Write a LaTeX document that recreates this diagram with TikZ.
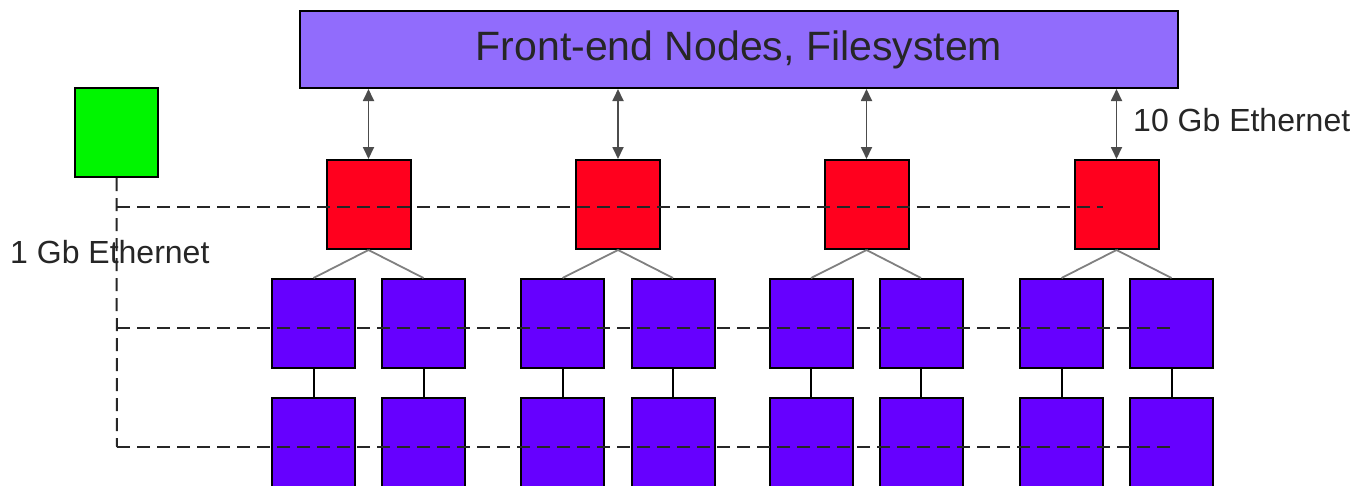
\documentclass[tikz,border=0pt]{standalone}
\usepackage{fontspec}
\setmainfont{Liberation Sans}
\usetikzlibrary{arrows.meta}
\definecolor{topc}{RGB}{145,108,252}
\definecolor{redc}{RGB}{255,0,30}
\definecolor{purc}{RGB}{102,0,255}
\definecolor{grnc}{RGB}{0,245,0}
\tikzset{
  box/.style={draw=black, line width=2pt, inner sep=0pt, minimum width=83pt, minimum height=89pt},
  redbox/.style={box, fill=redc, minimum width=84pt},
  purbox/.style={box, fill=purc},
  biarrow/.style={line width=1.8pt, draw=black!70, {Triangle[length=12pt,width=11pt]}-{Triangle[length=12pt,width=11pt]}},
  treeline/.style={draw=black!50, line width=1.8pt},
  stemline/.style={draw=black, line width=2pt},
  netline/.style={draw=black!85, line width=2pt, dash pattern=on 13pt off 7pt},
  lbl/.style={font=\fontsize{32}{38}\selectfont, text=black!85, inner sep=0pt, anchor=west}
}
\begin{document}
\begin{tikzpicture}[x=1pt,y=-1pt]
\useasboundingbox (0,0) rectangle (1356,485);
\begin{scope}
\clip (0,0) rectangle (1356,485);
\node[box, fill=topc, minimum width=878pt, minimum height=77pt, font=\fontsize{41}{48}\selectfont, text=black!85] (top) at (739,49.5) {Front-end Nodes, Filesystem};
\node[box, fill=grnc] (grn) at (116.5,132.5) {};
\node[redbox] (r1) at (368.5,204.5) {};
\node[redbox] (r2) at (618,204.5) {};
\node[redbox] (r3) at (866.5,204.5) {};
\node[redbox] (r4) at (1116.5,204.5) {};
\foreach \i/\x in {1/313.5,2/423.5,3/562.5,4/673,5/811,6/921,7/1061.5,8/1171.5}{
  \node[purbox] (a\i) at (\x,323.5) {};
  \node[purbox] (b\i) at (\x,442.5) {};
  \draw[stemline] (a\i.south) -- (b\i.north);
}
\foreach \r/\p/\q in {r1/a1/a2, r2/a3/a4, r3/a5/a6, r4/a7/a8}{
  \draw[biarrow] (\r.north |- top.south) -- (\r.north);
  \draw[treeline] (\r.south) -- (\p.north);
  \draw[treeline] (\r.south) -- (\q.north);
}
\coordinate (v0) at (117,447);
\coordinate (h1) at (117,207);
\coordinate (h2) at (117,328);
\coordinate (h3) at (117,447);
\coordinate (e1) at (1103,207);
\coordinate (e2) at (1175,328);
\coordinate (e3) at (1175,447);
\draw[netline] (grn.south) -- (v0);
\draw[netline] (h1) -- (e1);
\draw[netline] (h2) -- (e2);
\draw[netline] (h3) -- (e3);
\node[lbl] (l10) at (1133,120) {10 Gb Ethernet};
\node[lbl] (l1) at (10,252) {1 Gb Ethernet};
\end{scope}
\end{tikzpicture}
\end{document}
